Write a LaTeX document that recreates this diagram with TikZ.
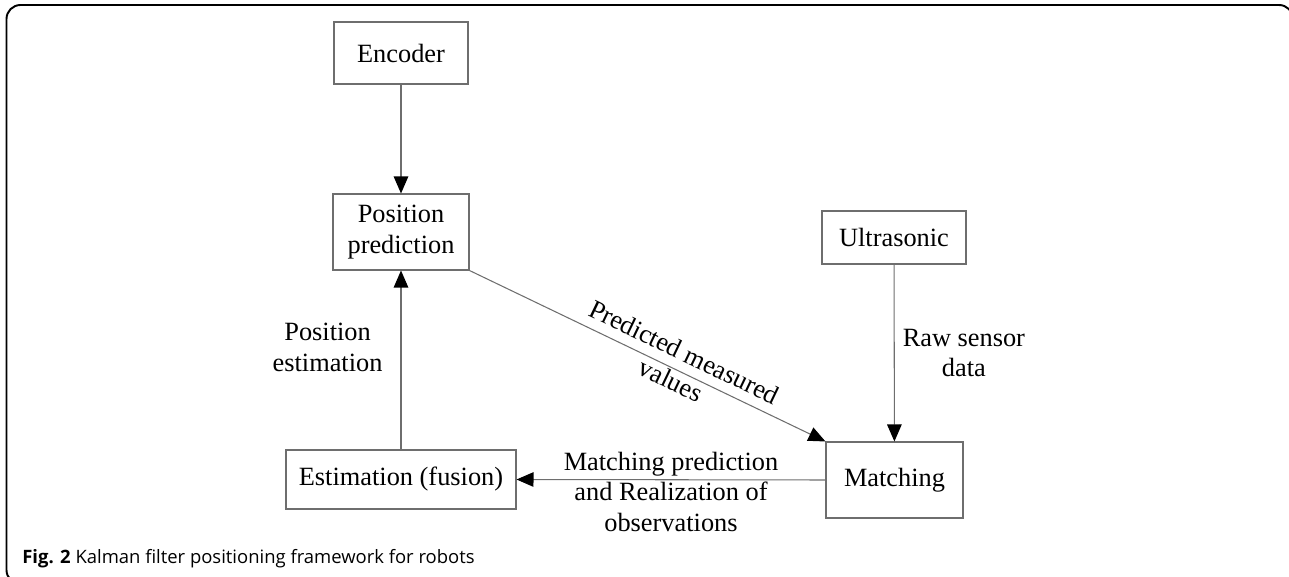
\documentclass[tikz,border=0pt]{standalone}
\usepackage{fontspec}
\setmainfont{Liberation Serif}
\newfontfamily\capfont{Open Sans}
\usetikzlibrary{arrows.meta}
\definecolor{linegray}{RGB}{110,110,110}
\begin{document}
\begin{tikzpicture}[x=0.02cm,y=-0.02cm,
    box/.style={draw=linegray,line width=0.6pt,align=center,inner sep=0pt,font=\fontsize{15}{17.5}\selectfont},
    lbl/.style={align=center,inner sep=0pt,font=\fontsize{15}{17.5}\selectfont},
    arr/.style={draw=linegray,line width=0.6pt,-{Triangle[length=3.4mm,width=2.9mm,black]}}]
    \useasboundingbox (0,0) rectangle (1289,577);
    \begin{scope}
      \clip (0,0) rectangle (1289,577);
      \draw[line width=1.1pt,rounded corners=0.28cm] (6.5,5) rectangle (1293,584);
    \end{scope}
    \node[box,minimum width=2.68cm,minimum height=1.24cm] (enc) at (401,53) {Encoder};
    \node[box,minimum width=2.72cm,minimum height=1.52cm] (pp) at (401,232) {Position\\prediction};
    \node[box,minimum width=2.88cm,minimum height=1.06cm] (ultra) at (894,237.5) {Ultrasonic};
    \node[box,minimum width=2.74cm,minimum height=1.52cm] (match) at (894.5,480) {Matching};
    \node[box,minimum width=4.6cm,minimum height=1.18cm] (est) at (401,479.5) {Estimation (fusion)};
    \draw[arr] (enc) -- (pp);
    \draw[arr] (est) -- node[lbl,pos=0.57,left=0.36cm] {Position\\estimation} (pp);
    \draw[arr] (ultra) -- node[lbl,pos=0.5,right=0.16cm] {Raw sensor\\data} (match);
    \draw[arr] (pp.south east) -- node[lbl,sloped,pos=0.58,yshift=0.08cm] {Predicted measured\\values} (match.north west);
    \draw[arr] (match.west) -- node[lbl,pos=0.5,yshift=-0.24cm] {Matching prediction\\and Realization of\\observations} (est.east);
    \node[anchor=base west,inner sep=0pt,font=\capfont\fontsize{10.5}{12}\selectfont] (cap) at (22,563) {\textbf{Fig. 2} Kalman filter positioning framework for robots};
  \end{tikzpicture}
\end{document}
